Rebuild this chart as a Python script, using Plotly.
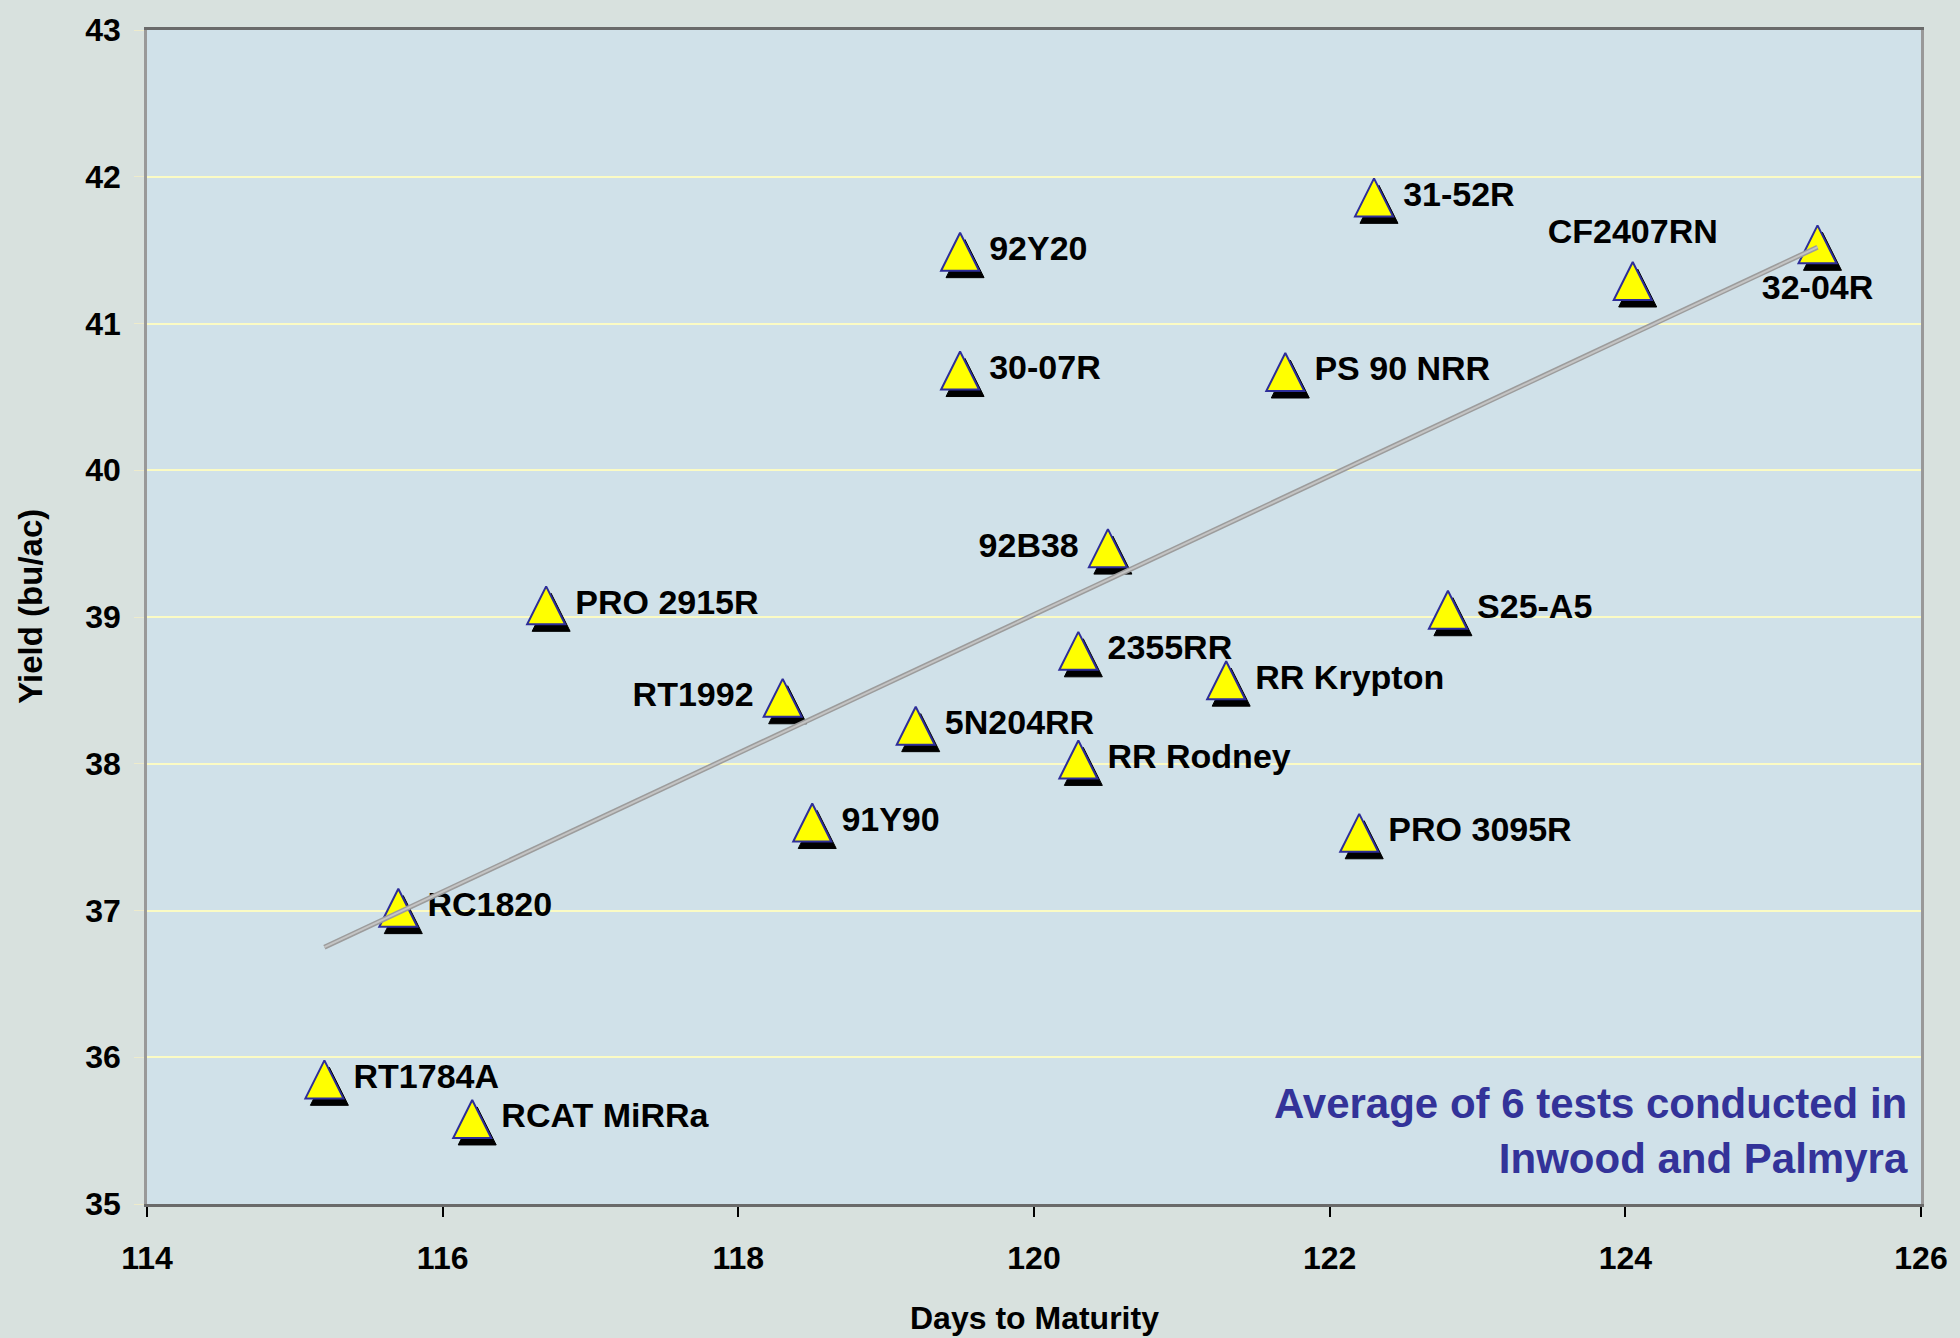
import plotly.graph_objects as go

# Hybrid trial data
hybrids = ["RT1784A", "RCAT MiRRa", "RC1820", "PRO 2915R", "RT1992", "91Y90",
           "5N204RR", "92Y20", "30-07R", "92B38", "2355RR", "RR Rodney",
           "RR Krypton", "PS 90 NRR", "31-52R", "PRO 3095R", "S25-A5",
           "CF2407RN", "32-04R"]
days = [115.2, 116.2, 115.7, 116.7, 118.3, 118.5, 119.2, 119.5, 119.5, 120.5,
        120.3, 120.3, 121.3, 121.7, 122.3, 122.2, 122.8, 124.05, 125.3]
yields = [35.85, 35.58, 37.02, 39.08, 38.45, 37.6, 38.26, 41.49, 40.68, 39.47,
          38.77, 38.03, 38.57, 40.67, 41.86, 37.53, 39.05, 41.29, 41.54]

# linear trend line end points
trend_x = [115.2, 125.3]
trend_y = [36.75, 41.52]

x_ticks = [114, 116, 118, 120, 122, 124, 126]
y_ticks = [35, 36, 37, 38, 39, 40, 41, 42, 43]

label_pos = ["middle right"] * len(hybrids)
label_pos[hybrids.index("RT1992")] = "middle left"
label_pos[hybrids.index("92B38")] = "middle left"
label_pos[hybrids.index("CF2407RN")] = "top center"
label_pos[hybrids.index("32-04R")] = "bottom center"

FONT = "Arial, Liberation Sans, sans-serif"
W, H = 1960, 1338
L, R, T, B = 147, 31, 23, 134
px_x = (W - L - R) / 12.0   # px per day
px_y = (H - T - B) / 8.0    # px per bu/ac
MS = 38                      # marker size (arrow-up: tip sits on the point)

fig = go.Figure()

# labels (main axes, bottom layer)
fig.add_trace(go.Scatter(x=days, y=yields, mode="markers+text", text=hybrids,
                         textposition=label_pos,
                         textfont=dict(family=FONT, size=34, color="black", weight="bold"),
                         marker=dict(size=45, opacity=0), hoverinfo="skip"))

# shadow markers on shifted overlay axes
fig.add_trace(go.Scatter(x=days, y=yields, mode="markers", xaxis="x2", yaxis="y2",
                         marker=dict(symbol="arrow-up", size=MS, color="black",
                                     line=dict(color="black", width=1)),
                         hoverinfo="skip"))
# yellow markers
fig.add_trace(go.Scatter(x=days, y=yields, mode="markers", xaxis="x3", yaxis="y3",
                         marker=dict(symbol="arrow-up", size=MS, color="#FFFF00",
                                     line=dict(color="#2E2E99", width=2)),
                         text=hybrids, hoverinfo="text"))

# trend line on top (darker edge + lighter core)
fig.add_trace(go.Scatter(x=trend_x, y=trend_y, mode="lines", xaxis="x4", yaxis="y4",
                         line=dict(color="#9C9C9C", width=5), hoverinfo="skip"))
fig.add_trace(go.Scatter(x=trend_x, y=trend_y, mode="lines", xaxis="x4", yaxis="y4",
                         line=dict(color="#C4C4C4", width=2), hoverinfo="skip"))

fig.add_annotation(text="Average of 6 tests conducted in<br>Inwood and Palmyra",
                   xref="paper", yref="paper", x=0.994, y=0.062,
                   xanchor="right", yanchor="middle", align="right", showarrow=False,
                   font=dict(family=FONT, size=42, color="#333399", weight="bold"))
fig.add_annotation(text="Days to Maturity", xref="paper", yref="paper",
                   x=0.5, y=-0.097, xanchor="center", yanchor="middle", showarrow=False,
                   font=dict(family=FONT, size=32, color="black", weight="bold"))
fig.add_annotation(text="Yield (bu/ac)", xref="paper", yref="paper", textangle=-90,
                   x=-0.0658, y=0.509, xanchor="center", yanchor="middle", showarrow=False,
                   font=dict(family=FONT, size=33, color="black", weight="bold"))

dx_sh = 5 / px_x
dy_sh = (MS / 2 - 7) / px_y
dy_mk = (MS / 2) / px_y

fig.update_layout(
    width=W, height=H,
    margin=dict(l=L, r=R, t=T, b=B),
    paper_bgcolor="#D8E1DE",
    plot_bgcolor="#D0E1E9",
    showlegend=False,
    font=dict(family=FONT, color="black"),
    xaxis=dict(range=[114, 126], tickvals=x_ticks, showgrid=False, zeroline=False,
               ticks="outside", ticklen=10, tickwidth=1.5, tickcolor="black",
               showline=True, linecolor="#6A6A6A", linewidth=2.5, mirror=True,
               tickfont=dict(size=32, weight="bold"), ticklabelstandoff=14),
    yaxis=dict(range=[35, 43], tickvals=y_ticks, showgrid=True, gridcolor="#FBFBC4",
               gridwidth=1.5, zeroline=False,
               ticks="outside", ticklen=10, tickcolor="#EEEBCB",
               showline=True, linecolor="#999999", linewidth=2.5, mirror=True,
               tickfont=dict(size=32, weight="bold"), ticklabelstandoff=7),
    xaxis2=dict(range=[114 - dx_sh, 126 - dx_sh], overlaying="x", visible=False),
    yaxis2=dict(range=[35 - dy_sh, 43 - dy_sh], overlaying="y", visible=False),
    xaxis3=dict(range=[114, 126], overlaying="x", visible=False),
    yaxis3=dict(range=[35 - dy_mk, 43 - dy_mk], overlaying="y", visible=False),
    xaxis4=dict(range=[114, 126], overlaying="x", visible=False),
    yaxis4=dict(range=[35, 43], overlaying="y", visible=False),
)

fig.write_html("out.html", config={"displayModeBar": False},
               post_script="document.body.style.margin='0';")
